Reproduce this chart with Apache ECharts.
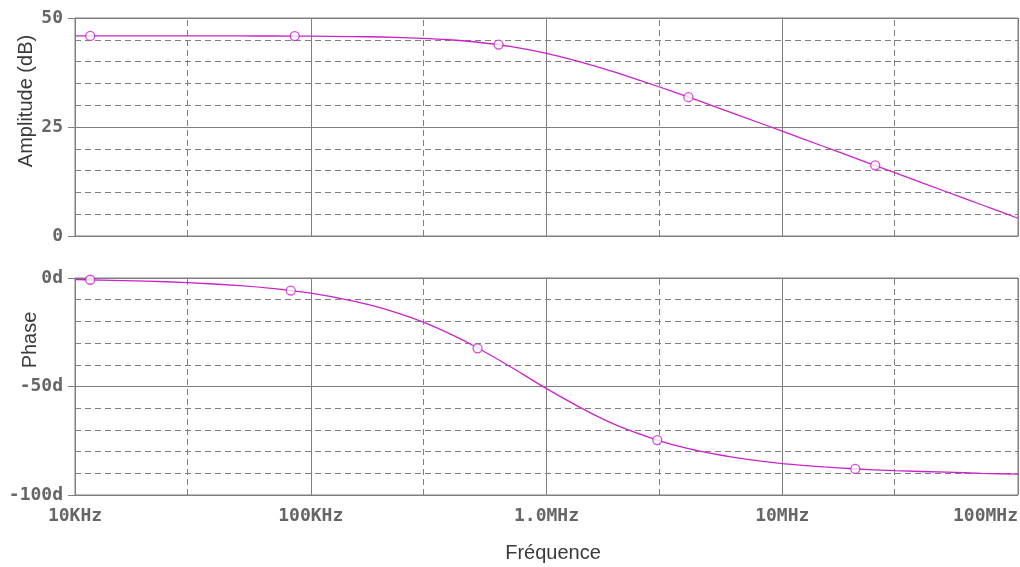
<!DOCTYPE html>
<html>
<head>
<meta charset="utf-8">
<style>
  html, body { margin: 0; padding: 0; background: #ffffff; }
  #chart { width: 1020px; height: 567px; }
</style>
<script src="https://cdn.jsdelivr.net/npm/echarts@6/dist/echarts.min.js"></script>
</head>
<body>
<div id="chart"></div>
<script>
// Frequency sweep (Hz) and the two traces measured along it
const freqHz = [1e4, 2e4, 3e4, 5e4, 7e4, 1e5, 1.5e5, 2e5, 3e5, 4e5, 5e5, 7e5,
  1e6, 1.5e6, 2e6, 3e6, 4e6, 5e6, 7e6, 1e7, 1.5e7, 2e7, 3e7, 5e7, 7e7, 1e8];
const amplitudeDb = [45.9, 45.9, 45.89, 45.88, 45.87, 45.83, 45.75, 45.64, 45.34, 44.95, 44.5, 43.48,
  41.88, 39.44, 37.39, 34.23, 31.85, 29.98, 27.11, 24.04, 20.53, 18.04, 14.52, 10.09, 7.17, 4.07];
const phaseDeg = [-0.7, -1.4, -2.1, -3.5, -4.9, -7.0, -10.5, -13.9, -20.3, -26.3, -31.7, -40.8,
  -51.0, -61.6, -68.0, -74.9, -78.6, -80.8, -83.5, -85.5, -87.0, -87.9, -88.8, -89.5, -90.0, -90.4];

// Trace markers (open circles)
const ampMarkerFreq = [1.16e4, 8.55e4, 6.26e5, 4.0e6, 2.48e7];
const ampMarkerDb = [45.9, 45.85, 43.9, 31.85, 16.2];
const phaseMarkerFreq = [1.16e4, 8.23e4, 5.1e5, 2.95e6, 2.04e7];
const phaseMarkerDeg = [-0.8, -5.8, -32.4, -74.7, -88.0];

// Axis ticks and labels
const freqTickLabels = ['10KHz', '100KHz', '1.0MHz', '10MHz', '100MHz']; // 1e4 .. 1e8
const freqDashedLines = [3e4, 3e5, 3e6, 3e7];
const ampTickLabels = { 0: '0', 25: '25', 50: '50' };
const phaseTickLabels = { 0: '0d', '-50': '-50d', '-100': '-100d' };

const pair = (xs, ys) => xs.map((x, i) => [x, ys[i]]);

const TRACE = '#cc22cc';
const GRID = '#7f7f7f';
const LABEL = '#666666';
const labelFont = { fontFamily: 'DejaVu Sans Mono', fontWeight: 'bold', fontSize: 18, color: LABEL };

function freqAxis(gridIndex, showLabels) {
  return {
    type: 'log', logBase: 10, gridIndex, min: 1e4, max: 1e8,
    axisLine: { show: true, lineStyle: { color: GRID, width: 1 } },
    axisTick: { show: showLabels, length: 7, lineStyle: { color: GRID } },
    axisLabel: Object.assign({
      show: showLabels, margin: 12, hideOverlap: false, alignMaxLabel: 'right',
      formatter: v => freqTickLabels[Math.round(Math.log10(v)) - 4] || ''
    }, labelFont),
    splitLine: { show: true, lineStyle: { color: GRID, width: 1 } },
    minorSplitLine: { show: false }
  };
}

function valueAxis(gridIndex, min, max, interval, labels) {
  return {
    type: 'value', gridIndex, min, max, interval,
    axisLine: { show: true, lineStyle: { color: GRID, width: 1 } },
    axisTick: { show: true, length: 7, lineStyle: { color: GRID } },
    axisLabel: Object.assign({
      margin: 12,
      formatter: v => labels[String(Math.round(v))] || ''
    }, labelFont),
    splitLine: { show: true, lineStyle: { color: GRID, width: 1 } },
    minorTick: { show: false, splitNumber: 5 },
    minorSplitLine: { show: true, lineStyle: { color: GRID, width: 1, type: [6, 4] } }
  };
}

const dashedVerticals = {
  silent: true, symbol: 'none',
  label: { show: false },
  lineStyle: { color: GRID, width: 1, type: [6, 4] },
  data: freqDashedLines.map(f => ({ xAxis: f }))
};

const gridBase = { left: 75, width: 943, show: true, borderColor: GRID, borderWidth: 1, containLabel: false, outerBoundsMode: 'none' };

const chart = echarts.init(document.getElementById('chart'), null, { renderer: 'canvas' });
chart.setOption({
  animation: false,
  backgroundColor: '#ffffff',
  grid: [
    Object.assign({ top: 18, height: 218 }, gridBase),
    Object.assign({ top: 278, height: 217 }, gridBase)
  ],
  xAxis: [freqAxis(0, false), freqAxis(1, true)],
  yAxis: [
    valueAxis(0, 0, 50, 25, ampTickLabels),
    valueAxis(1, -100, 0, 50, phaseTickLabels)
  ],
  series: [
    {
      type: 'line', xAxisIndex: 0, yAxisIndex: 0, data: pair(freqHz, amplitudeDb),
      showSymbol: false, smooth: 0.2, lineStyle: { color: TRACE, width: 1.3 }, z: 5,
      markLine: dashedVerticals
    },
    {
      type: 'line', xAxisIndex: 1, yAxisIndex: 1, data: pair(freqHz, phaseDeg),
      showSymbol: false, smooth: 0.2, lineStyle: { color: TRACE, width: 1.3 }, z: 5,
      markLine: dashedVerticals
    },
    {
      type: 'scatter', xAxisIndex: 0, yAxisIndex: 0, data: pair(ampMarkerFreq, ampMarkerDb),
      symbol: 'circle', symbolSize: 9, z: 6,
      itemStyle: { color: '#ffffff', borderColor: TRACE, borderWidth: 1.3 }
    },
    {
      type: 'scatter', xAxisIndex: 1, yAxisIndex: 1, data: pair(phaseMarkerFreq, phaseMarkerDeg),
      symbol: 'circle', symbolSize: 9, z: 6,
      itemStyle: { color: '#ffffff', borderColor: TRACE, borderWidth: 1.3 }
    }
  ],
  graphic: [
    {
      type: 'text', x: 26, y: 101, rotation: Math.PI / 2,
      style: { text: 'Amplitude (dB)', font: '20px "Liberation Sans", Arial, sans-serif', fill: '#3a3a3a', align: 'center', verticalAlign: 'middle' }
    },
    {
      type: 'text', x: 30, y: 340, rotation: Math.PI / 2,
      style: { text: 'Phase', font: '20px "Liberation Sans", Arial, sans-serif', fill: '#3a3a3a', align: 'center', verticalAlign: 'middle' }
    },
    {
      type: 'text', x: 553, y: 553,
      style: { text: 'Fréquence', font: '20px "Liberation Sans", Arial, sans-serif', fill: '#3a3a3a', align: 'center', verticalAlign: 'middle' }
    }
  ]
});
</script>
</body>
</html>
